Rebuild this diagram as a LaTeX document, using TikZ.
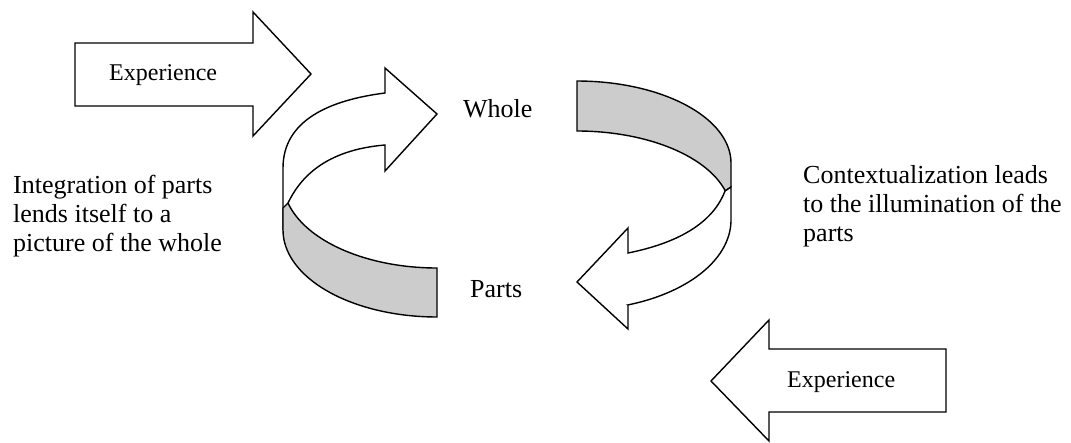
\documentclass[tikz,border=0pt]{standalone}
\usepackage{fontspec}
\setmainfont{Liberation Serif}
\definecolor{ribbon}{RGB}{204,204,204}
\tikzset{
  shapeline/.style={draw=black, line width=1.4pt, line join=miter},
  whitepart/.style={shapeline, fill=white},
  greypart/.style={shapeline, fill=ribbon},
  bigtext/.style={font=\rmfamily\fontsize{26}{29}\selectfont, inner sep=0pt, anchor=base west, align=left},
  exptext/.style={font=\rmfamily\fontsize{24}{28}\selectfont, inner sep=0pt, anchor=base west}
}
\begin{document}
\begin{tikzpicture}[x=1pt, y=-1pt]
\useasboundingbox (0,0) rectangle (1071,442);

% top-left Experience arrow
\draw[whitepart] (75,43) -- (253,43) -- (253,12) -- (311,74) -- (253,136) -- (253,106) -- (75,106) -- cycle;
\node[exptext] (exp1) at (109,80) {Experience};

% bottom-right Experience arrow
\draw[whitepart] (946,349) -- (769,349) -- (769,320) -- (711,381) -- (769,441) -- (769,412) -- (946,412) -- cycle;
\node[exptext] (exp2) at (787,387) {Experience};

% left curved arrow (from Parts up to Whole): back white part
\draw[whitepart] (283,230) -- (283,168) .. controls (283,120) and (330,100) .. (385,93)
  -- (385,68) -- (437,114) -- (385,171) -- (385,145)
  .. controls (325,150) and (300,178) .. (288,203) -- cycle;
% front grey part
\draw[greypart] (288,203)
  -- plot[domain=165.4:90, samples=40] ({437+154*cos(\x)},{181+87*sin(\x)})
  -- (437,317)
  -- plot[domain=90:180, samples=40] ({437+154*cos(\x)},{230+87*sin(\x)})
  -- (283,208) -- cycle;

% right curved arrow (from Whole down to Parts): grey back part
\draw[greypart] (577,81)
  -- plot[domain=-90:0, samples=40] ({577+154*cos(\x)},{163+82*sin(\x)})
  -- (731,187) -- (725,191)
  -- plot[domain=-16:-90, samples=40] ({577+154*cos(\x)},{213+82*sin(\x)})
  -- cycle;
% front white part
\draw[whitepart] (725,191) .. controls (711,228) and (668,245) .. (628,253)
  -- (628,228) -- (577,282) -- (628,329) -- (628,305)
  -- plot[domain=70.7:0, samples=40] ({577+154*cos(\x)},{220+90*sin(\x)})
  -- (731,187) -- cycle;

% labels
\node[bigtext] (whole) at (463,117) {Whole};
\node[bigtext] (parts) at (470,297) {Parts};
\node[bigtext] (lefttext) at (13,251) {Integration of parts\\lends itself to a\\picture of the whole};
\node[bigtext] (righttext) at (803,241) {Contextualization leads\\to the illumination of the\\parts};
\end{tikzpicture}
\end{document}
